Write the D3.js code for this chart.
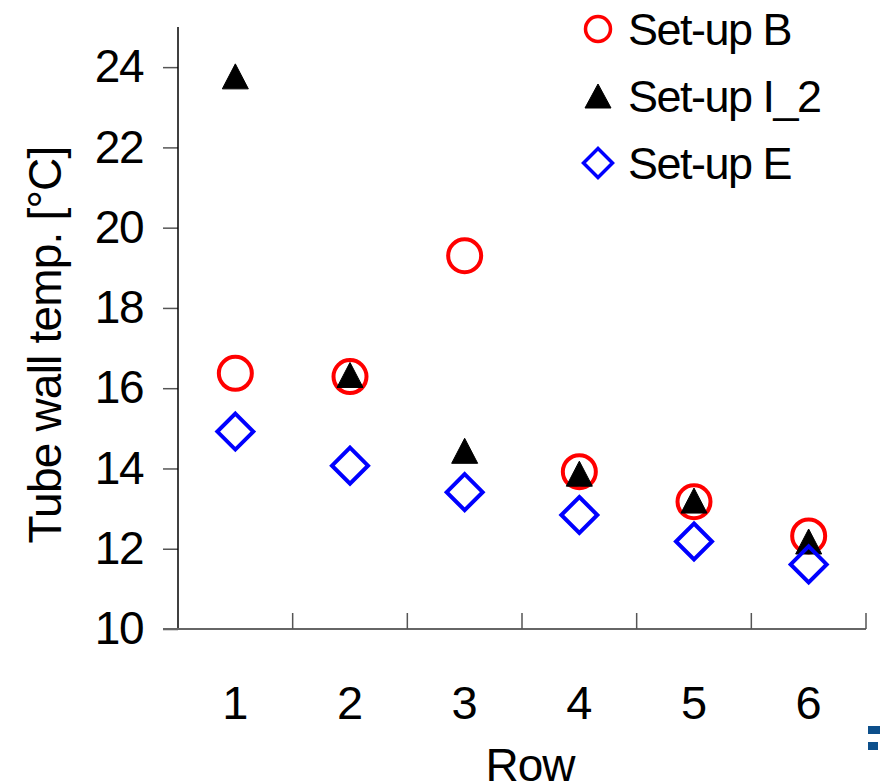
<!DOCTYPE html>
<html>
<head>
<meta charset="utf-8">
<script src="https://cdn.jsdelivr.net/npm/d3@7"></script>
<style>
  body { margin: 0; background: #fff; }
  text { font-family: "Liberation Sans", Arial, sans-serif; fill: #000; }
</style>
</head>
<body>
<script>
(function(){

//chart data
var rows = ["1", "2", "3", "4", "5", "6"];
var setupB = [16.37, 16.29, 19.3, 13.92, 13.17, 12.32];
var setupI2 = [23.77, 16.33, 14.44, 13.87, 13.2, 12.18];
var setupE = [14.92, 14.07, 13.41, 12.84, 12.18, 11.61];
var yTicks = [10, 12, 14, 16, 18, 20, 22, 24];
var seriesNames = ["Set-up B", "Set-up I_2", "Set-up E"];

var width = 886,
    height = 783;

var svg = d3.select("body")
    .append("svg")
    .attr("width", width)
    .attr("height", height);

var x = d3.scaleBand()
    .domain(rows)
    .range([178, 866]);

var y = d3.scaleLinear()
    .domain([10, 25])
    .range([629, 27]);

//marker path builders (centred on bounding box)
function triPath(w, h){
  return "M0," + (-h / 2) + "L" + (w / 2) + "," + (h / 2) + "L" + (-w / 2) + "," + (h / 2) + "Z";
}
function diaPath(r){
  return "M0," + (-r) + "L" + r + ",0L0," + r + "L" + (-r) + ",0Z";
}

//y axis
var yAxis = svg.append("g")
    .attr("transform", "translate(178,0)")
    .call(d3.axisLeft(y).tickValues(yTicks).tickSize(15).tickPadding(20));
yAxis.select(".domain").remove();
yAxis.selectAll(".tick line").attr("stroke", "#555").attr("stroke-width", 1.5);
yAxis.selectAll(".tick text")
    .style("font-size", "46px")
    .style("font-family", "Liberation Sans, Arial, sans-serif")
    .attr("letter-spacing", "-1.5")
    .attr("fill", "#000");

svg.append("line")
    .attr("x1", 178).attr("x2", 178)
    .attr("y1", y(25)).attr("y2", y(10))
    .attr("stroke", "#000").attr("stroke-width", 1.5);

//x axis
svg.append("line")
    .attr("x1", 163).attr("x2", x.range()[1])
    .attr("y1", y(10)).attr("y2", y(10))
    .attr("stroke", "#666").attr("stroke-width", 2);

svg.selectAll(".xTick")
    .data(rows)
    .enter()
    .append("line")
    .attr("class", "xTick")
    .attr("x1", function(d){ return x(d) + x.bandwidth(); })
    .attr("x2", function(d){ return x(d) + x.bandwidth(); })
    .attr("y1", y(10) - 16)
    .attr("y2", y(10))
    .attr("stroke", "#555").attr("stroke-width", 1.5);

svg.selectAll(".xLabel")
    .data(rows)
    .enter()
    .append("text")
    .attr("class", "xLabel")
    .attr("x", function(d){ return x(d) + x.bandwidth() / 2; })
    .attr("y", 719)
    .attr("text-anchor", "middle")
    .style("font-size", "47px")
    .text(function(d){ return d; });

//axis titles
svg.append("text")
    .attr("x", 530)
    .attr("y", 781)
    .attr("text-anchor", "middle")
    .style("font-size", "46px")
    .attr("letter-spacing", "-1")
    .text("Row");

svg.append("text")
    .attr("transform", "translate(61,345) rotate(-90)")
    .attr("text-anchor", "middle")
    .style("font-size", "46px")
    .attr("letter-spacing", "-0.8")
    .text("Tube wall temp. [°C]");

//series B: red open circles
svg.selectAll(".ptB")
    .data(setupB)
    .enter()
    .append("circle")
    .attr("class", "ptB")
    .attr("cx", function(d, i){ return x(rows[i]) + x.bandwidth() / 2; })
    .attr("cy", function(d){ return y(d); })
    .attr("r", 16.5)
    .attr("fill", "none")
    .attr("stroke", "#ff0000")
    .attr("stroke-width", 4);

//series I_2: black triangles
svg.selectAll(".ptI")
    .data(setupI2)
    .enter()
    .append("path")
    .attr("class", "ptI")
    .attr("d", triPath(26, 25))
    .attr("transform", function(d, i){
      return "translate(" + (x(rows[i]) + x.bandwidth() / 2) + "," + y(d) + ")";
    })
    .attr("fill", "#000")
    .attr("stroke", "#000")
    .attr("stroke-width", 1)
    .attr("stroke-linejoin", "round");

//series E: blue open diamonds
svg.selectAll(".ptE")
    .data(setupE)
    .enter()
    .append("path")
    .attr("class", "ptE")
    .attr("d", diaPath(18))
    .attr("transform", function(d, i){
      return "translate(" + (x(rows[i]) + x.bandwidth() / 2) + "," + y(d) + ")";
    })
    .attr("fill", "none")
    .attr("stroke", "#0000ff")
    .attr("stroke-width", 4);

//legend
var legend = svg.selectAll(".legend")
    .data(seriesNames)
    .enter()
    .append("g")
    .attr("class", "legend")
    .attr("transform", function(d, i){ return "translate(598," + (29 + i * 67) + ")"; });

legend.each(function(d, i){
  var g = d3.select(this);
  if (i === 0) {
    g.append("circle").attr("r", 12.5)
        .attr("fill", "none").attr("stroke", "#ff0000").attr("stroke-width", 3.5);
  } else if (i === 1) {
    g.append("path").attr("d", triPath(26, 24))
        .attr("fill", "#000").attr("stroke", "#000").attr("stroke-linejoin", "round");
  } else {
    g.append("path").attr("d", diaPath(14.5))
        .attr("fill", "none").attr("stroke", "#0000ff").attr("stroke-width", 3.5);
  }
  g.append("text")
      .attr("x", 30)
      .attr("y", 16)
      .style("font-size", "45px")
      .attr("letter-spacing", "-1.5")
      .text(d);
});

//slide decoration in the corner
svg.append("rect").attr("x", 868).attr("y", 726).attr("width", 12).attr("height", 8).attr("fill", "#0d4f8b");
svg.append("rect").attr("x", 868).attr("y", 742).attr("width", 10).attr("height", 8).attr("fill", "#0d4f8b");

})();
</script>
</body>
</html>
